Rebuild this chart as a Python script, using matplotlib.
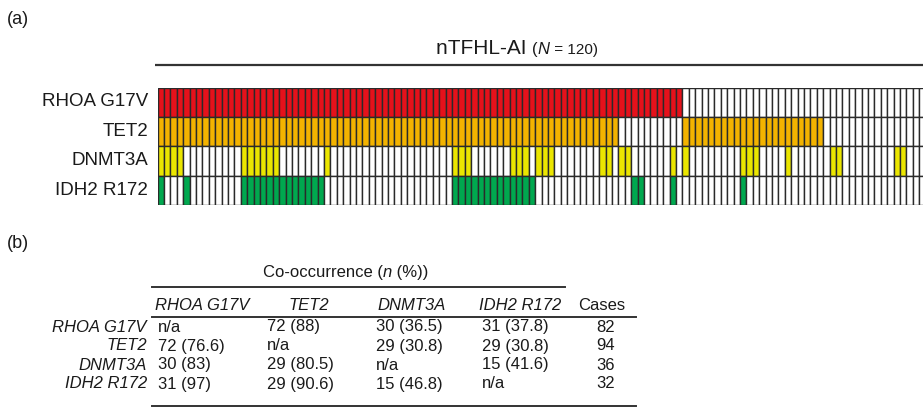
import matplotlib
matplotlib.use("Agg")
import matplotlib.pyplot as plt
import numpy as np

N_CASES = 120
GENES = ["RHOA G17V", "TET2", "DNMT3A", "IDH2 R172"]
GENE_COLORS = ["#e6111b", "#f3b300", "#ebe600", "#00a84f"]

# mutated samples per gene, as (first column, run length)
RHOA_RUNS = [(0, 82)]
TET2_RUNS = [(0, 72), (82, 22)]
DNMT3A_RUNS = [(0, 4), (13, 6), (26, 1), (46, 3), (55, 3), (59, 3), (69, 2),
               (72, 2), (80, 1), (82, 1), (91, 3), (98, 1), (105, 2), (115, 2)]
IDH2_RUNS = [(0, 1), (4, 1), (13, 13), (46, 13), (74, 2), (80, 1), (91, 1)]

# co-occurrence table
COOC_N = [[None, 72, 30, 31],
          [72, None, 29, 29],
          [30, 29, None, 15],
          [31, 29, 15, None]]
COOC_PCT = [[None, "88", "36.5", "37.8"],
            ["76.6", None, "30.8", "30.8"],
            ["83", "80.5", None, "41.6"],
            ["97", "90.6", "46.8", None]]
CASES = [82, 94, 36, 32]

SANS = ["Liberation Sans", "DejaVu Sans"]
INK = "#1a1a1a"


def runs_to_mask(runs, n=N_CASES):
    m = np.zeros(n, dtype=bool)
    for start, length in runs:
        m[start:start + length] = True
    return m


W, H = 923, 420
fig = plt.figure(figsize=(W / 100, H / 100), dpi=100)

# full-figure overlay in pixel coordinates for labels, rules and the table
ax = fig.add_axes([0, 0, 1, 1])
ax.set_xlim(0, W)
ax.set_ylim(H, 0)
ax.axis("off")

# ---- (a) oncoprint ----
# the grid runs slightly past the right edge of the figure
grid_left, cell_w = 157.5, 6.4
gx = fig.add_axes([grid_left / W, (H - 205) / H, cell_w * N_CASES / W, (205 - 87.5) / H])
gx.set_xlim(0, N_CASES)
gx.set_ylim(len(GENES), 0)
gx.axis("off")

cols = np.arange(N_CASES)
for r, (runs, c) in enumerate(zip([RHOA_RUNS, TET2_RUNS, DNMT3A_RUNS, IDH2_RUNS], GENE_COLORS)):
    mask = runs_to_mask(runs)
    gx.bar(cols, 1, bottom=r, width=1, align="edge",
           color=np.where(mask, c, "white"), edgecolor="#2a2a2a", linewidth=1.0)
    ax.text(148, 102 + r * 29.4, GENES[r], ha="right", va="center",
            fontsize=13.5, family=SANS, color=INK)

ax.text(7, 19, "(a)", ha="left", va="center", fontsize=13, family=SANS, color=INK)
ax.text(7, 243, "(b)", ha="left", va="center", fontsize=13, family=SANS, color=INK)


def place_run(pieces, x0, y):
    """Lay out text pieces left to right on one baseline."""
    fig.canvas.draw()
    inv = ax.transData.inverted()
    x = x0
    for s, kw in pieces:
        t = ax.text(x, y, s, ha="left", va="baseline", color=INK, **kw)
        bb = t.get_window_extent(renderer=fig.canvas.get_renderer())
        x = inv.transform((bb.x1, bb.y0))[0]


place_run([("nTFHL-AI ", dict(fontsize=15, family=SANS)),
           ("(", dict(fontsize=12, family=SANS)),
           ("N", dict(fontsize=12, family=SANS, style="italic")),
           (" = 120)", dict(fontsize=11, family=SANS))], 436, 54)
ax.plot([155, 923], [65, 65], color="#333333", lw=1.6, solid_capstyle="butt")

# ---- (b) co-occurrence table ----
TS = 12
place_run([("Co-occurrence (", dict(fontsize=TS, family=SANS)),
           ("n", dict(fontsize=TS, family=SANS, style="italic")),
           (" (%))", dict(fontsize=TS, family=SANS))], 263, 277)
ax.plot([152, 565], [287, 287], color="#333333", lw=1.4)
ax.plot([152, 636], [317, 317], color="#333333", lw=1.4)
ax.plot([152, 636], [406, 406], color="#333333", lw=1.4)

header_x = [155, 309, 377, 479]
header_ha = ["left", "center", "left", "left"]
for g, x, ha in zip(GENES, header_x, header_ha):
    ax.text(x, 306, g, ha=ha, va="center", fontsize=TS, family=SANS,
            style="italic", color=INK)
ax.text(578, 306, "Cases", ha="left", va="center", fontsize=TS, family=SANS, color=INK)

value_x = [158, 267, 376, 482]
row_y = [327, 346, 365, 384]
for i, g in enumerate(GENES):
    y = row_y[i]
    ax.text(147, y, g, ha="right", va="center", fontsize=TS, family=SANS,
            style="italic", color=INK)
    for j in range(len(GENES)):
        n, p = COOC_N[i][j], COOC_PCT[i][j]
        s = "n/a" if n is None else f"{n} ({p})"
        ax.text(value_x[j], y, s, ha="left", va="center", fontsize=TS,
                family=SANS, color=INK)
    ax.text(606, y, str(CASES[i]), ha="center", va="center", fontsize=TS,
            family=SANS, color=INK)

fig.savefig("out.png", dpi=100)
